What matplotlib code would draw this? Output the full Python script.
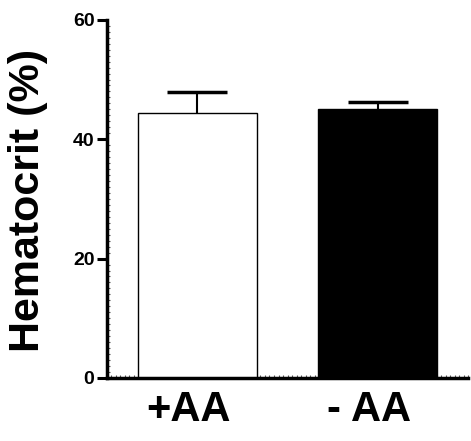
import matplotlib
matplotlib.use("Agg")
from matplotlib import pyplot as plt
from matplotlib.ticker import MultipleLocator
from matplotlib.transforms import ScaledTranslation

# Hematocrit with / without AA
groups = ["+AA", "- AA"]
means = [44.4, 45.1]
errs_up = [3.5, 1.1]
fills = ["white", "black"]
yticks = [0, 20, 40, 60]

plt.rcParams['font.family'] = ['Liberation Sans', 'DejaVu Sans']

fig = plt.figure(figsize=(4.71, 4.41), dpi=100)
ax = fig.add_axes([0.227, 0.143, 0.767, 0.812])

x = list(range(len(groups)))
ax.bar(x, means, width=0.66, color=fills, edgecolor="black", linewidth=1.0, zorder=2)
eb = ax.errorbar(x, means, yerr=[[0] * len(means), errs_up], fmt="none",
                 ecolor="black", elinewidth=1.5, capsize=21.5, capthick=2.5, zorder=1)
# only the upper cap is drawn
eb[1][0].set_visible(False)

ax.set_xlim(-0.5, 1.5)
ax.set_ylim(0, 60)
ax.set_yticks(yticks)
ax.set_yticklabels([str(v) for v in yticks], fontsize=14, fontweight="bold")
ax.set_xticks(x)
ax.set_xticklabels(groups, fontsize=30, fontweight="bold")

ax.yaxis.set_minor_locator(MultipleLocator(1))
ax.xaxis.set_minor_locator(MultipleLocator(0.025))
ax.tick_params(axis="y", which="major", direction="out", length=7, width=2.2, pad=2)
ax.tick_params(axis="x", which="major", length=0, pad=9)
ax.tick_params(which="minor", direction="in", length=2, width=0.8, color="#555555")

# group labels sit a little left of the bar centres
shift = ScaledTranslation(-0.09, 0, fig.dpi_scale_trans)
for tick in ax.xaxis.get_major_ticks():
    tick.label1.set_transform(tick.label1.get_transform() + shift)

for side in ["top", "right"]:
    ax.spines[side].set_visible(False)
for side in ["left", "bottom"]:
    ax.spines[side].set_linewidth(2.5)

ax.set_ylabel("Hematocrit (%)", fontsize=31, fontweight="bold", va="center")
ax.yaxis.set_label_coords(-0.219, 0.497)

fig.savefig("out.png", dpi=100)
